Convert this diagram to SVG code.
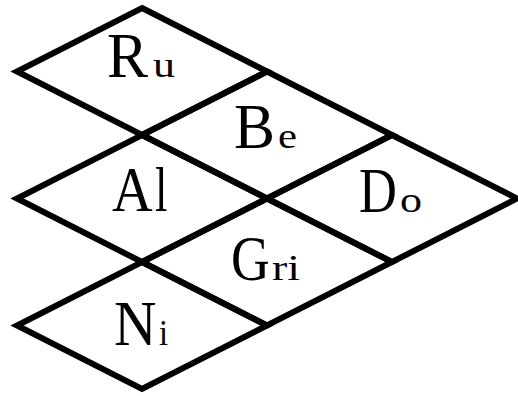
<svg xmlns="http://www.w3.org/2000/svg" width="518" height="396" viewBox="0 0 518 396">
<style>
.t{fill:none;stroke:#000;stroke-width:6;stroke-linejoin:miter;stroke-miterlimit:10}
text{font-family:"Liberation Serif","DejaVu Serif",serif;fill:#000}
.c{font-size:64px}
.l{font-size:35px}
</style>
<rect width="518" height="396" fill="#fff"/>
<g id="connectors"></g>
<g id="Ru">
<polygon class="t" points="142,8 267,71.5 142,135 17,71.5"/>
<text class="c" transform="translate(107,77) scale(0.96,1)">R</text>
<text class="l" x="153" y="77" textLength="22" lengthAdjust="spacingAndGlyphs">u</text>
</g>
<g id="Be">
<polygon class="t" points="267,71.5 392,135 267,198.5 142,135"/>
<text class="c" transform="translate(234,148) scale(0.96,1)">B</text>
<text class="l" x="278" y="148" textLength="19" lengthAdjust="spacingAndGlyphs">e</text>
</g>
<g id="Al">
<polygon class="t" points="142,135 267,198.5 142,262 17,198.5"/>
<text class="c" transform="translate(112,211) scale(0.88,1)">A</text>
<text class="c" transform="translate(155,211) scale(0.7,1)">l</text>
</g>
<g id="Do">
<polygon class="t" points="392,135 517,198.5 392,262 267,198.5"/>
<text class="c" transform="translate(359,212) scale(0.82,1)">D</text>
<text class="l" x="400" y="212" textLength="22" lengthAdjust="spacingAndGlyphs">o</text>
</g>
<g id="Gri">
<polygon class="t" points="267,198.5 392,262 267,325.5 142,262"/>
<text class="c" transform="translate(231,280) scale(0.84,1)">G</text>
<text class="l" x="272" y="280" textLength="28" lengthAdjust="spacingAndGlyphs">ri</text>
</g>
<g id="Ni">
<polygon class="t" points="142,262 267,325.5 142,389 17,325.5"/>
<text class="c" transform="translate(114,345) scale(0.92,1)">N</text>
<text class="l" x="159" y="345" textLength="9" lengthAdjust="spacingAndGlyphs">i</text>
</g>
</svg>
